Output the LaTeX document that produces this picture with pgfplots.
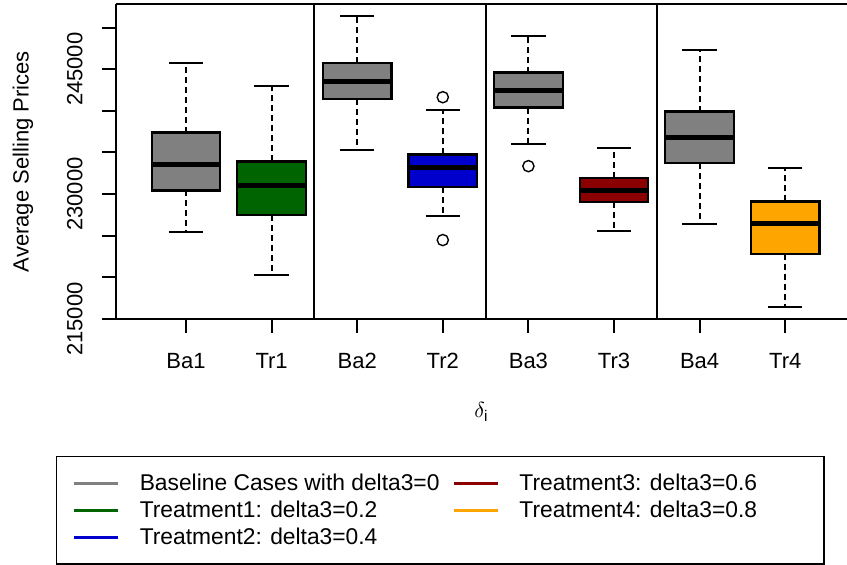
\documentclass[border=0pt]{standalone}
\usepackage{fontspec}
\setmainfont{Liberation Sans}
\usepackage{pgfplots}
\pgfplotsset{compat=1.18}
\usepgfplotslibrary{statistics}

\definecolor{bgray}{RGB}{128,128,128}
\definecolor{tgreen}{RGB}{0,100,0}
\definecolor{tblue}{RGB}{0,0,205}
\definecolor{tred}{RGB}{139,0,0}
\definecolor{torange}{RGB}{255,165,0}

% R-like boxplot: dashed whiskers, thick median (staples drawn as marks below)
\pgfplotsset{
  rbox/.style={
    forget plot,
    boxplot/draw direction=y,
    boxplot/box extend=0.8,
    boxplot/whisker extend=0.4,
    boxplot/every box/.style={draw=black, line width=1.1bp, fill=#1},
    boxplot/every median/.style={draw=black, line width=2.4bp},
    boxplot/every whisker/.style={draw=black, line width=1bp, dash pattern=on 3bp off 2bp},
    only marks, mark=o, mark size=2.8bp,
    mark options={solid, draw=black, fill=none, line width=0.7bp},
  },
}

\newcommand{\lbl}{\fontsize{11bp}{13bp}\selectfont}
\newcommand{\leg}{\fontsize{11.4bp}{13bp}\selectfont}

\begin{document}
\begin{tikzpicture}[font=\lbl]
\begin{axis}[
  scale only axis,
  width=365.5bp, height=157.35bp,
  xmin=0.182, xmax=8.722,
  ymin=215000, ymax=252800,
  axis x line*=box, axis y line*=left,
  axis line style={line width=1bp, black},
  tick align=outside,
  major tick length=7bp,
  tick style={black, line width=1bp},
  xtick pos=left, ytick pos=left,
  xtick={1,2,3,4,5,6,7,8},
  xticklabels={Ba1,Tr1,Ba2,Tr2,Ba3,Tr3,Ba4,Tr4},
  ytick={215000,220000,225000,230000,235000,240000,245000,250000},
  yticklabels={215000,,,230000,,,245000,},
  scaled y ticks=false,
  tick label style={font=\lbl},
  xticklabel style={anchor=north, inner sep=0pt},
  yticklabel style={rotate=90, anchor=south, inner sep=0pt},
  xticklabel shift=10bp,
  yticklabel shift=9.5bp,
  label style={font=\lbl},
  xlabel={$\delta_{\mathrm{i}}$},
  xlabel style={at={(axis description cs:0.5,-0.296)}, anchor=center},
  ylabel={Average Selling Prices},
  ylabel style={at={(axis description cs:-0.1272,0.5)}, anchor=center},
  legend columns=2,
  legend cell align=left,
  legend style={
    at={(-0.0825,-0.434)}, anchor=north west,
    draw=black, line width=0.8bp, fill=white,
    inner xsep=8.15bp, inner ysep=6.6bp,
    font=\leg,
    nodes={inner sep=0pt, text height=10.7bp, text depth=2.8bp},
    row sep=0pt, column sep=0pt,
  },
  legend image code/.code={%
    \draw[#1, line width=1.5bp] (0bp,0bp) -- (22bp,0bp);
  },
]

% group separators
\addplot[black, line width=1bp, forget plot] coordinates {(2.5,215000) (2.5,252800)};
\addplot[black, line width=1bp, forget plot] coordinates {(4.5,215000) (4.5,252800)};
\addplot[black, line width=1bp, forget plot] coordinates {(6.5,215000) (6.5,252800)};

% Ba1
\addplot[rbox=bgray, boxplot prepared={draw position=1,
  lower whisker=225400, lower quartile=230440, median=233520,
  upper quartile=237400, upper whisker=245800}] coordinates {};
% Tr1
\addplot[rbox=tgreen, boxplot prepared={draw position=2,
  lower whisker=220320, lower quartile=227480, median=231000,
  upper quartile=233920, upper whisker=242960}] coordinates {};
% Ba2
\addplot[rbox=bgray, boxplot prepared={draw position=3,
  lower whisker=235280, lower quartile=241440, median=243560,
  upper quartile=245720, upper whisker=251440}] coordinates {};
% Tr2
\addplot[rbox=tblue, boxplot prepared={draw position=4,
  lower whisker=227320, lower quartile=230880, median=233160,
  upper quartile=234760, upper whisker=240080}]
  table[row sep=\\, y index=0] {241640\\ 224480\\};
% Ba3
\addplot[rbox=bgray, boxplot prepared={draw position=5,
  lower whisker=235960, lower quartile=240400, median=242440,
  upper quartile=244600, upper whisker=249000}]
  table[row sep=\\, y index=0] {233360\\};
% Tr3
\addplot[rbox=tred, boxplot prepared={draw position=6,
  lower whisker=225600, lower quartile=229080, median=230440,
  upper quartile=231960, upper whisker=235560}] coordinates {};
% Ba4
\addplot[rbox=bgray, boxplot prepared={draw position=7,
  lower whisker=226400, lower quartile=233760, median=236840,
  upper quartile=239920, upper whisker=247280}] coordinates {};
% Tr4
\addplot[rbox=torange, boxplot prepared={draw position=8,
  lower whisker=216400, lower quartile=222840, median=226480,
  upper quartile=229120, upper whisker=233160}] coordinates {};

% solid whisker staples
\addplot[forget plot, only marks, mark=-, mark size=8.55bp,
  mark options={solid, black, line width=1bp}] coordinates {
  (1,225400) (1,245800) (2,220320) (2,242960)
  (3,235280) (3,251440) (4,227320) (4,240080)
  (5,235960) (5,249000) (6,225600) (6,235560)
  (7,226400) (7,247280) (8,216400) (8,233160)
};

% legend, filled row by row so that it reads column-wise
\addlegendimage{bgray}
\addlegendentry{\makebox[166.35bp][l]{\hspace*{10bp}Baseline Cases with delta3=0}}
\addlegendimage{tred}
\addlegendentry{\makebox[154bp][l]{\hspace*{10bp}Treatment3: delta3=0.6}}
\addlegendimage{tgreen}
\addlegendentry{\makebox[166.35bp][l]{\hspace*{10bp}Treatment1: delta3=0.2}}
\addlegendimage{torange}
\addlegendentry{\makebox[154bp][l]{\hspace*{10bp}Treatment4: delta3=0.8}}
\addlegendimage{tblue}
\addlegendentry{\makebox[166.35bp][l]{\hspace*{10bp}Treatment2: delta3=0.4}}
\end{axis}
\pgfresetboundingbox
\path (-58bp,-123bp) rectangle (365.5bp,159.5bp);
\end{tikzpicture}
\end{document}
